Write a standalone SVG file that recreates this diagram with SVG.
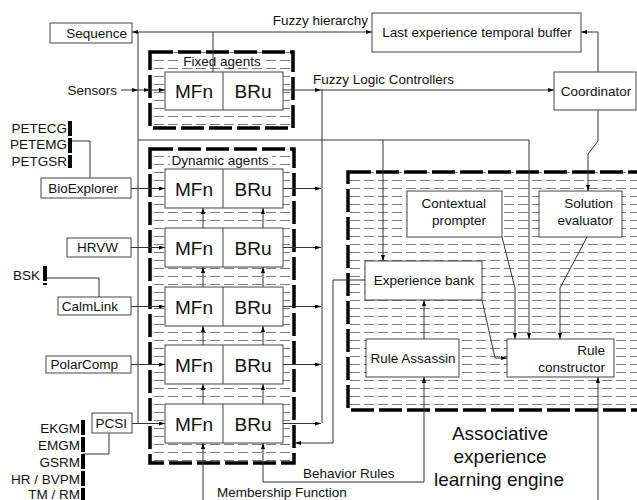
<svg xmlns="http://www.w3.org/2000/svg" width="637" height="500" viewBox="0 0 637 500">
<style>
text{font-family:"Liberation Sans",Arial,sans-serif;font-size:13.5px;fill:#111}
.big{font-size:19px}
.eng{font-size:19px}
.box{fill:#fff;stroke:#444;stroke-width:1}
.grp{stroke:#000;stroke-width:3.5;stroke-dasharray:23,5}
.c{fill:none;stroke:#333;stroke-width:1}
.bar{stroke:#000;stroke-width:4;stroke-dasharray:15,2;fill:none}
.m{text-anchor:middle}
.e{text-anchor:end}
</style>
<defs>
<pattern id="hatch" width="14" height="8" patternUnits="userSpaceOnUse">
<line x1="0" y1="4.5" x2="10" y2="4.5" stroke="#7a7a7a" stroke-width="1"/>
</pattern>
<marker id="ah" markerWidth="6" markerHeight="4" refX="6" refY="2" orient="auto" markerUnits="userSpaceOnUse">
<path d="M0,0 L6,2 L0,4 z" fill="#000"/>
</marker>
</defs>

<!-- group containers -->
<g id="fixed-agents">
<rect x="150" y="52" width="143" height="76" fill="url(#hatch)" class="grp"/>
<rect x="180" y="54" width="84" height="14" fill="#fff"/>
<text x="222" y="66" class="m">Fixed agents</text>
</g>
<g id="dynamic-agents">
<rect x="150" y="149" width="144" height="314" fill="url(#hatch)" class="grp"/>
<rect x="170" y="152" width="102" height="15" fill="#fff"/>
<text x="220" y="165" class="m">Dynamic agents</text>
</g>
<g id="engine">
<rect x="348" y="172" width="300" height="238" fill="url(#hatch)" class="grp"/>
<text x="500" y="440" class="m eng">Associative</text>
<text x="500" y="463" class="m eng">experience</text>
<text x="499" y="486" class="m eng">learning engine</text>
</g>

<!-- connectors -->
<g id="connectors">
<path class="c" d="M213,72 V32 H372" marker-end="url(#ah)"/>
<path class="c" d="M213,32 H132" marker-end="url(#ah)"/>
<path class="c" d="M138,32 V423"/>
<path class="c" d="M121,90 H138" marker-end="url(#ah)"/>
<path class="c" d="M138,90 H150" marker-end="url(#ah)"/>
<path class="c" d="M150,90 H165" marker-end="url(#ah)"/>
<path class="c" d="M283,90 H321" marker-end="url(#ah)"/>
<path class="c" d="M321,90 H554" marker-end="url(#ah)"/>
<path class="c" d="M322,90 V423"/>
<path class="c" d="M283,188.5 H321" marker-end="url(#ah)"/>
<path class="c" d="M283,247.5 H321" marker-end="url(#ah)"/>
<path class="c" d="M283,306.5 H321" marker-end="url(#ah)"/>
<path class="c" d="M283,364.5 H321" marker-end="url(#ah)"/>
<path class="c" d="M283,423.5 H321" marker-end="url(#ah)"/>
<path class="c" d="M131,188.5 H165" marker-end="url(#ah)"/>
<path class="c" d="M131,247.5 H165" marker-end="url(#ah)"/>
<path class="c" d="M131,306.5 H165" marker-end="url(#ah)"/>
<path class="c" d="M131,364.5 H165" marker-end="url(#ah)"/>
<path class="c" d="M132,423.5 H165" marker-end="url(#ah)"/>
<path class="c" d="M203,228 V208" marker-end="url(#ah)"/>
<path class="c" d="M263,228 V208" marker-end="url(#ah)"/>
<path class="c" d="M203,287 V267" marker-end="url(#ah)"/>
<path class="c" d="M263,287 V267" marker-end="url(#ah)"/>
<path class="c" d="M203,345 V326" marker-end="url(#ah)"/>
<path class="c" d="M263,345 V326" marker-end="url(#ah)"/>
<path class="c" d="M203,404 V384" marker-end="url(#ah)"/>
<path class="c" d="M263,404 V384" marker-end="url(#ah)"/>
<path class="c" d="M138,140 H529 V339" marker-end="url(#ah)"/>
<path class="c" d="M383,140 V261" marker-end="url(#ah)"/>
<path class="c" d="M598,72 V32 H581" marker-end="url(#ah)"/>
<path class="c" d="M598,110 V141 L588,154 V191" marker-end="url(#ah)"/>
<path class="c" d="M502,237 L515,288 V339" marker-end="url(#ah)"/>
<path class="c" d="M587,237 L560,288 V339" marker-end="url(#ah)"/>
<path class="c" d="M482,300 L495,358 H507" marker-end="url(#ah)"/>
<path class="c" d="M424,339 V300" marker-end="url(#ah)"/>
<path class="c" d="M343,482 H424 V377" marker-end="url(#ah)"/>
<path class="c" d="M343,482 H263 V443" marker-end="url(#ah)"/>
<path class="c" d="M203,500 V443" marker-end="url(#ah)"/>
<path class="c" d="M598,500 V377" marker-end="url(#ah)"/>
<path class="c" d="M365,280 H333 V443 H295" marker-end="url(#ah)"/>
<path class="c" d="M70,141 H90 V178"/>
<path class="c" d="M45,278 H99 V297"/>
<path class="c" d="M83,454 H109 V433"/>
</g>

<!-- labels -->
<g id="labels">
<text x="368" y="25" class="e">Fuzzy hierarchy</text>
<text x="313" y="84">Fuzzy Logic Controllers</text>
<text x="117" y="94.5" class="e">Sensors</text>
<text x="303" y="477.5">Behavior Rules</text>
<text x="217" y="496.5">Membership Function</text>
</g>

<!-- nodes -->
<g id="sequence"><rect x="50" y="23" width="82" height="20" class="box"/><text x="127" y="38" class="e">Sequence</text></g>
<g id="buffer"><rect x="372" y="13" width="209" height="39" class="box"/><text x="477" y="37" class="m">Last experience temporal buffer</text></g>
<g id="coordinator"><rect x="554" y="72" width="82" height="38" class="box"/><text x="596" y="96" class="m">Coordinator</text></g>

<g id="fixed-agent"><rect x="165" y="72" width="118" height="38" class="box"/><line x1="223" y1="72" x2="223" y2="110" stroke="#444"/><text x="194" y="98" class="m big">MFn</text><text x="253" y="98" class="m big">BRu</text></g>
<g id="dyn1"><rect x="165" y="169" width="118" height="39" class="box"/><line x1="223" y1="169" x2="223" y2="208" stroke="#444"/><text x="194" y="195.5" class="m big">MFn</text><text x="253" y="195.5" class="m big">BRu</text></g>
<g id="dyn2"><rect x="165" y="228" width="118" height="39" class="box"/><line x1="223" y1="228" x2="223" y2="267" stroke="#444"/><text x="194" y="254.5" class="m big">MFn</text><text x="253" y="254.5" class="m big">BRu</text></g>
<g id="dyn3"><rect x="165" y="287" width="118" height="39" class="box"/><line x1="223" y1="287" x2="223" y2="326" stroke="#444"/><text x="194" y="313.5" class="m big">MFn</text><text x="253" y="313.5" class="m big">BRu</text></g>
<g id="dyn4"><rect x="165" y="345" width="118" height="39" class="box"/><line x1="223" y1="345" x2="223" y2="384" stroke="#444"/><text x="194" y="371.5" class="m big">MFn</text><text x="253" y="371.5" class="m big">BRu</text></g>
<g id="dyn5"><rect x="165" y="404" width="118" height="39" class="box"/><line x1="223" y1="404" x2="223" y2="443" stroke="#444"/><text x="194" y="430.5" class="m big">MFn</text><text x="253" y="430.5" class="m big">BRu</text></g>

<g id="bioexplorer"><rect x="41" y="178" width="90" height="20" class="box"/><text x="118" y="193" class="e">BioExplorer</text></g>
<g id="hrvw"><rect x="67" y="238" width="64" height="19" class="box"/><text x="118" y="252" class="e">HRVW</text></g>
<g id="calmlink"><rect x="58" y="297" width="73" height="18" class="box"/><text x="118" y="311" class="e">CalmLink</text></g>
<g id="polarcomp"><rect x="46" y="356" width="85" height="17" class="box"/><text x="118" y="369" class="e">PolarComp</text></g>
<g id="pcsi"><rect x="92" y="413" width="40" height="20" class="box"/><text x="127" y="428" class="e">PCSI</text></g>

<g id="pet-sensors"><path class="bar" d="M70,121 V168"/><text x="67" y="133" class="e">PETECG</text><text x="67" y="149" class="e">PETEMG</text><text x="67" y="166" class="e">PETGSR</text></g>
<g id="bsk"><path class="bar" d="M45,266 V285"/><text x="40" y="280" class="e">BSK</text></g>
<g id="pcsi-sensors"><path class="bar" d="M83,420 V500"/><text x="80" y="433" class="e">EKGM</text><text x="80" y="450" class="e">EMGM</text><text x="80" y="467" class="e">GSRM</text><text x="80" y="484" class="e">HR / BVPM</text><text x="80" y="499" class="e">TM / RM</text></g>

<g id="contextual-prompter"><rect x="407" y="191" width="95" height="46" class="box"/><text x="486" y="208" class="e">Contextual</text><text x="486" y="225" class="e">prompter</text></g>
<g id="solution-evaluator"><rect x="539" y="191" width="83" height="46" class="box"/><text x="613" y="208" class="e">Solution</text><text x="613" y="225" class="e">evaluator</text></g>
<g id="experience-bank"><rect x="365" y="261" width="117" height="39" class="box"/><text x="424" y="284.5" class="m">Experience bank</text></g>
<g id="rule-assassin"><rect x="366" y="339" width="93" height="38" class="box"/><text x="413" y="362.5" class="m">Rule Assassin</text></g>
<g id="rule-constructor"><rect x="507" y="339" width="107" height="38" class="box"/><text x="605" y="355" class="e">Rule</text><text x="605" y="372" class="e">constructor</text></g>
</svg>
